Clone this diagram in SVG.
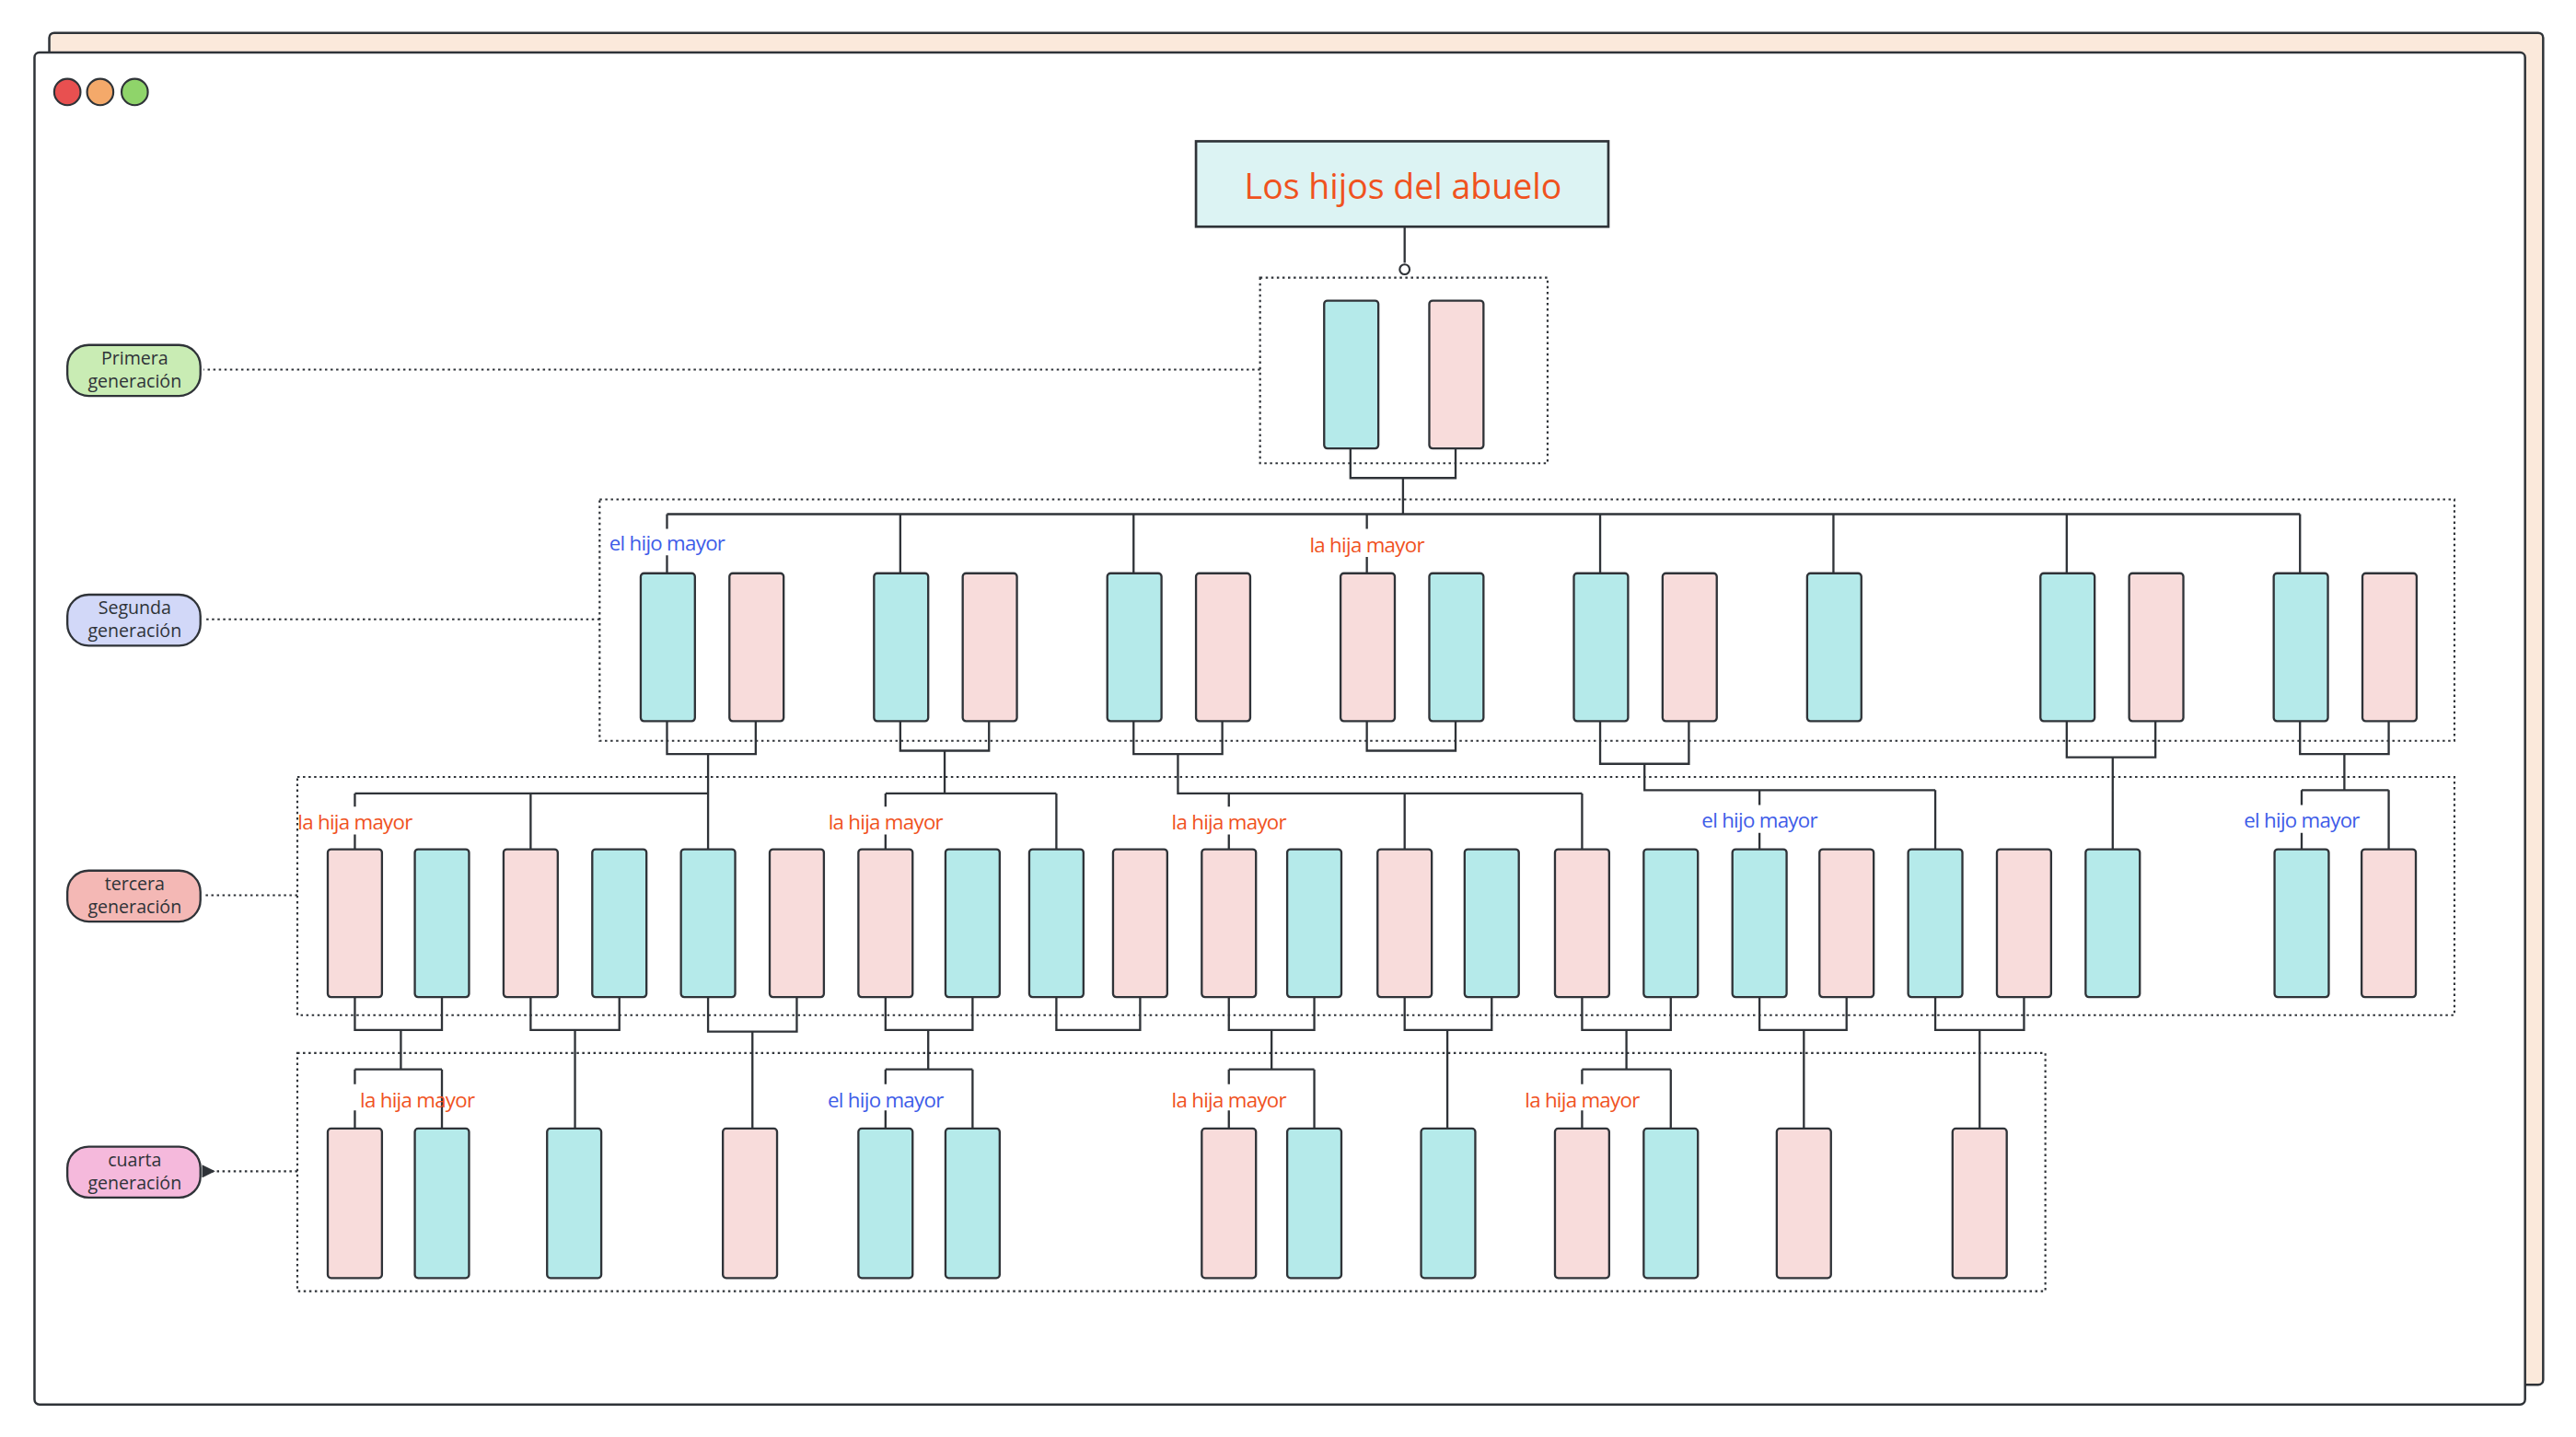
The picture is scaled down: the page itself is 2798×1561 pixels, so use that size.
<svg xmlns="http://www.w3.org/2000/svg" width="2798" height="1561" viewBox="0 0 2798 1561">
<style>
.b{fill:#b5eaea;stroke:#2f3338;stroke-width:1.3}
.p{fill:#f8dcdb;stroke:#2f3338;stroke-width:1.3}
.c{fill:none;stroke:#2f3338;stroke-width:1.3}
.d{fill:none;stroke:#2f3338;stroke-width:1.2;stroke-dasharray:1.4 2}
.t{font-family:"Open Sans","Liberation Sans",sans-serif;font-size:12.5px;text-anchor:middle;letter-spacing:-0.4px}
.o{fill:#f0521e}.u{fill:#3e5ce8}
.g{font-family:"Open Sans","Liberation Sans",sans-serif;font-size:11px;text-anchor:middle;fill:#2f3338}
</style>
<defs><marker id="a" markerWidth="8" markerHeight="8" refX="7" refY="4" orient="auto" markerUnits="userSpaceOnUse"><path d="M8,0L0,4L8,8z" fill="#2f3338"/></marker></defs>
<g transform="scale(1.78444)">
<g id="frame">
<rect x="30" y="20" width="1518" height="823" rx="3" fill="#fbe9db" stroke="#2f3338" stroke-width="1.4"/>
<rect x="21" y="32" width="1516" height="823" rx="3" fill="#fff" stroke="#2f3338" stroke-width="1.4"/>
<circle cx="41" cy="56" r="8" fill="#e85050" stroke="#2f3338" stroke-width="1.2"/>
<circle cx="61" cy="56" r="8" fill="#f4a96a" stroke="#2f3338" stroke-width="1.2"/>
<circle cx="82" cy="56" r="8" fill="#8fd46a" stroke="#2f3338" stroke-width="1.2"/>
</g>
<g id="groups">
<rect class="d" x="767" y="169" width="175" height="113"/>
<rect class="d" x="365" y="304" width="1129" height="147"/>
<rect class="d" x="181" y="473" width="1313" height="145"/>
<rect class="d" x="181" y="641" width="1064" height="145"/>
</g>
<g id="title"><rect x="728" y="86" width="251" height="52" fill="#dcf3f3" stroke="#2f3338" stroke-width="1.5"/>
<text x="854" y="121" font-family="'Open Sans','Liberation Sans',sans-serif" font-size="21" text-anchor="middle" fill="#f0521e">Los hijos del abuelo</text></g>
<g id="legend">
<g id="l1"><rect x="41" y="210" width="81" height="31" rx="13" fill="#c9ecb4" stroke="#2f3338" stroke-width="1.3"/><text class="g" x="82" y="222">Primera</text><text class="g" x="82" y="236">generación</text></g>
<g id="l2"><rect x="41" y="362" width="81" height="31" rx="13" fill="#d2d8f8" stroke="#2f3338" stroke-width="1.3"/><text class="g" x="82" y="374">Segunda</text><text class="g" x="82" y="388">generación</text></g>
<g id="l3"><rect x="41" y="530" width="81" height="31" rx="13" fill="#f4b8b5" stroke="#2f3338" stroke-width="1.3"/><text class="g" x="82" y="542">tercera</text><text class="g" x="82" y="556">generación</text></g>
<g id="l4"><rect x="41" y="698" width="81" height="31" rx="13" fill="#f5b9dc" stroke="#2f3338" stroke-width="1.3"/><text class="g" x="82" y="710">cuarta</text><text class="g" x="82" y="724">generación</text></g>
</g>
<g id="connectors">
<path class="d" marker-end="url(#a)" d="M767,225H124M365,377H124M181,545H124M181,713H124"/>
<path class="c" d="M855,138V160"/><circle cx="855" cy="164" r="3" fill="#fff" stroke="#2f3338" stroke-width="1.2"/>
<path class="c" d="M822,273V291H886V273M854,291V313M406,313H1400M406,313V322M406,338V349M548,313V349M690,313V349M832,313V322M832,339V349M974,313V349M1116,313V349M1258,313V349M1400,313V349"/>
<path class="c" d="M406,439V459H460V439M548,439V457H602V439M690,439V459H744V439M832,439V457H886V439M974,439V465H1028V439M1258,439V461H1312V439M1400,439V459H1454V439"/>
<path class="c" d="M431,459V517M216,483H431M216,483V491M216,508V517M323,483V517M575,457V483M539,483H643M539,483V491M539,508V517M643,483V517M717,459V483H963M748,483V491M748,508V517M855,483V517M963,483V517M1001,465V481H1178M1071,481V490M1071,507V517M1178,481V517M1286,461V517M1427,459V481M1401,481H1454M1401,481V490M1401,507V517M1454,481V517"/>
<path class="c" d="M216,607V627H269V607M323,607V627H377V607M431,607V628H485V607M539,607V627H592V607M643,607V627H694V607M748,607V627H800V607M855,607V627H908V607M963,607V627H1017V607M1071,607V627H1124V607M1178,607V627H1232V607"/>
<path class="c" d="M244,627V651M216,651H269M216,651V660M216,676V687M269,651V687M350,627V687M458,628V687M565,627V651M539,651H592M539,651V660M539,676V687M592,651V687M774,627V651M748,651H800M748,651V660M748,676V687M800,651V687M881,627V687M990,627V651M963,651H1017M963,651V660M963,676V687M1017,651V687M1098,627V687M1205,627V687"/>
<text class="t u" x="406" y="335">el hijo mayor</text>
<text class="t o" x="832" y="336">la hija mayor</text>
<text class="t o" x="216" y="505">la hija mayor</text>
<text class="t o" x="539" y="505">la hija mayor</text>
<text class="t o" x="748" y="505">la hija mayor</text>
<text class="t u" x="1071" y="504">el hijo mayor</text>
<text class="t u" x="1401" y="504">el hijo mayor</text>
<text class="t o" x="254" y="674">la hija mayor</text>
<text class="t u" x="539" y="674">el hijo mayor</text>
<text class="t o" x="748" y="674">la hija mayor</text>
<text class="t o" x="963" y="674">la hija mayor</text>
</g>
<g id="gen1">
<g id="n1a"><rect class="b" x="806" y="183" width="33" height="90" rx="2"/></g>
<g id="n1b"><rect class="p" x="870" y="183" width="33" height="90" rx="2"/></g>
</g>
<g id="gen2">
<g id="n2a"><rect class="b" x="390" y="349" width="33" height="90" rx="2"/></g>
<g id="n2b"><rect class="p" x="444" y="349" width="33" height="90" rx="2"/></g>
<g id="n2c"><rect class="b" x="532" y="349" width="33" height="90" rx="2"/></g>
<g id="n2d"><rect class="p" x="586" y="349" width="33" height="90" rx="2"/></g>
<g id="n2e"><rect class="b" x="674" y="349" width="33" height="90" rx="2"/></g>
<g id="n2f"><rect class="p" x="728" y="349" width="33" height="90" rx="2"/></g>
<g id="n2g"><rect class="p" x="816" y="349" width="33" height="90" rx="2"/></g>
<g id="n2h"><rect class="b" x="870" y="349" width="33" height="90" rx="2"/></g>
<g id="n2i"><rect class="b" x="958" y="349" width="33" height="90" rx="2"/></g>
<g id="n2j"><rect class="p" x="1012" y="349" width="33" height="90" rx="2"/></g>
<g id="n2k"><rect class="b" x="1100" y="349" width="33" height="90" rx="2"/></g>
<g id="n2l"><rect class="b" x="1242" y="349" width="33" height="90" rx="2"/></g>
<g id="n2m"><rect class="p" x="1296" y="349" width="33" height="90" rx="2"/></g>
<g id="n2n"><rect class="b" x="1384" y="349" width="33" height="90" rx="2"/></g>
<g id="n2o"><rect class="p" x="1438" y="349" width="33" height="90" rx="2"/></g>
</g>
<g id="gen3">
<g id="n3a"><rect class="p" x="199.5" y="517" width="33" height="90" rx="2"/></g>
<g id="n3b"><rect class="b" x="252.5" y="517" width="33" height="90" rx="2"/></g>
<g id="n3c"><rect class="p" x="306.5" y="517" width="33" height="90" rx="2"/></g>
<g id="n3d"><rect class="b" x="360.5" y="517" width="33" height="90" rx="2"/></g>
<g id="n3e"><rect class="b" x="414.5" y="517" width="33" height="90" rx="2"/></g>
<g id="n3f"><rect class="p" x="468.5" y="517" width="33" height="90" rx="2"/></g>
<g id="n3g"><rect class="p" x="522.5" y="517" width="33" height="90" rx="2"/></g>
<g id="n3h"><rect class="b" x="575.5" y="517" width="33" height="90" rx="2"/></g>
<g id="n3i"><rect class="b" x="626.5" y="517" width="33" height="90" rx="2"/></g>
<g id="n3j"><rect class="p" x="677.5" y="517" width="33" height="90" rx="2"/></g>
<g id="n3k"><rect class="p" x="731.5" y="517" width="33" height="90" rx="2"/></g>
<g id="n3l"><rect class="b" x="783.5" y="517" width="33" height="90" rx="2"/></g>
<g id="n3m"><rect class="p" x="838.5" y="517" width="33" height="90" rx="2"/></g>
<g id="n3n"><rect class="b" x="891.5" y="517" width="33" height="90" rx="2"/></g>
<g id="n3o"><rect class="p" x="946.5" y="517" width="33" height="90" rx="2"/></g>
<g id="n3p"><rect class="b" x="1000.5" y="517" width="33" height="90" rx="2"/></g>
<g id="n3q"><rect class="b" x="1054.5" y="517" width="33" height="90" rx="2"/></g>
<g id="n3r"><rect class="p" x="1107.5" y="517" width="33" height="90" rx="2"/></g>
<g id="n3s"><rect class="b" x="1161.5" y="517" width="33" height="90" rx="2"/></g>
<g id="n3t"><rect class="p" x="1215.5" y="517" width="33" height="90" rx="2"/></g>
<g id="n3u"><rect class="b" x="1269.5" y="517" width="33" height="90" rx="2"/></g>
<g id="n3v"><rect class="b" x="1384.5" y="517" width="33" height="90" rx="2"/></g>
<g id="n3w"><rect class="p" x="1437.5" y="517" width="33" height="90" rx="2"/></g>
</g>
<g id="gen4">
<g id="n4a"><rect class="p" x="199.5" y="687" width="33" height="91" rx="2"/></g>
<g id="n4b"><rect class="b" x="252.5" y="687" width="33" height="91" rx="2"/></g>
<g id="n4c"><rect class="b" x="333" y="687" width="33" height="91" rx="2"/></g>
<g id="n4d"><rect class="p" x="440" y="687" width="33" height="91" rx="2"/></g>
<g id="n4e"><rect class="b" x="522.5" y="687" width="33" height="91" rx="2"/></g>
<g id="n4f"><rect class="b" x="575.5" y="687" width="33" height="91" rx="2"/></g>
<g id="n4g"><rect class="p" x="731.5" y="687" width="33" height="91" rx="2"/></g>
<g id="n4h"><rect class="b" x="783.5" y="687" width="33" height="91" rx="2"/></g>
<g id="n4i"><rect class="b" x="865" y="687" width="33" height="91" rx="2"/></g>
<g id="n4j"><rect class="p" x="946.5" y="687" width="33" height="91" rx="2"/></g>
<g id="n4k"><rect class="b" x="1000.5" y="687" width="33" height="91" rx="2"/></g>
<g id="n4l"><rect class="p" x="1081.5" y="687" width="33" height="91" rx="2"/></g>
<g id="n4m"><rect class="p" x="1188.5" y="687" width="33" height="91" rx="2"/></g>
</g>
</g>
</svg>
